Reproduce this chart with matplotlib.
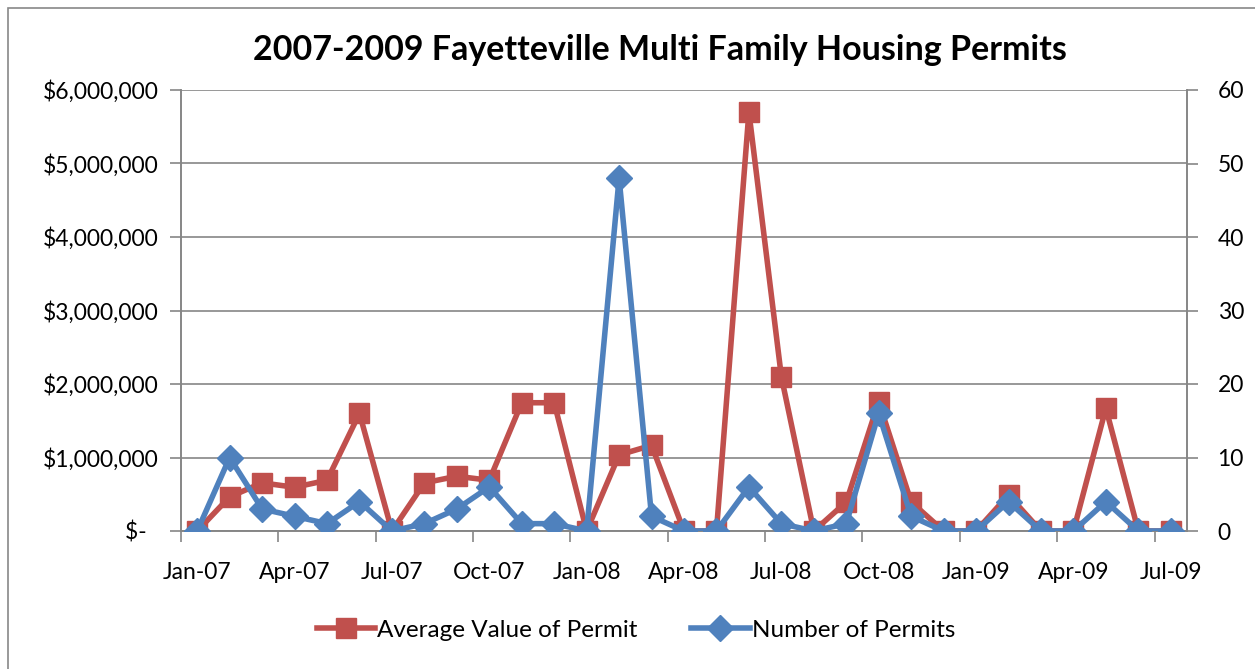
import matplotlib
matplotlib.use("Agg")
import matplotlib.pyplot as plt
from matplotlib.patches import Rectangle
from matplotlib.ticker import FixedLocator, FuncFormatter


MONTHS = [
    "Jan-07", "Feb-07", "Mar-07", "Apr-07", "May-07", "Jun-07", "Jul-07", "Aug-07",
    "Sep-07", "Oct-07", "Nov-07", "Dec-07", "Jan-08", "Feb-08", "Mar-08", "Apr-08",
    "May-08", "Jun-08", "Jul-08", "Aug-08", "Sep-08", "Oct-08", "Nov-08", "Dec-08",
    "Jan-09", "Feb-09", "Mar-09", "Apr-09", "May-09", "Jun-09", "Jul-09",
]

AVG_VALUE = [
    0, 465000, 655000, 595000, 690000, 1600000, 0, 655000,
    745000, 690000, 1745000, 1745000, 0, 1035000, 1165000, 0,
    0, 5700000, 2100000, 0, 395000, 1760000, 395000, 0,
    0, 490000, 0, 0, 1670000, 0, 0,
]

NUM_PERMITS = [
    0, 10, 3, 2, 1, 4, 0, 1,
    3, 6, 1, 1, 0, 48, 2, 0,
    0, 6, 1, 0, 1, 16, 2, 0,
    0, 4, 0, 0, 4, 0, 0,
]

RED = "#C0504D"
BLUE = "#4F81BD"
GRID = "#868686"

plt.rcParams["font.family"] = ["Lato", "DejaVu Sans"]


def money(v, _pos):
    if v == 0:
        return "$-  "
    return f"${v:,.0f}"


def main():
    fig = plt.figure(figsize=(12.55, 6.69), dpi=100)
    fig.patches.append(Rectangle((8 / 1255, -0.01), 1.02, 1 - 8 / 669 + 0.01,
                                 transform=fig.transFigure, fill=False,
                                 edgecolor="#888888", linewidth=1.2))

    ax1 = fig.add_axes([181 / 1255, 1 - 531 / 669, 1006 / 1255, 441 / 669])
    ax2 = ax1.twinx()

    x = list(range(len(MONTHS)))

    ax1.plot(x, AVG_VALUE, color=RED, linewidth=4, marker="s", markersize=14.5,
             label="Average Value of Permit", zorder=3)
    ax2.plot(x, NUM_PERMITS, color=BLUE, linewidth=4, marker="D", markersize=13,
             label="Number of Permits", zorder=3)

    ax1.set_xlim(-0.5, len(MONTHS) - 0.5)
    ax1.set_ylim(0, 6_000_000)
    ax2.set_ylim(0, 60)

    ax1.set_yticks(range(0, 6_000_001, 1_000_000))
    ax1.yaxis.set_major_formatter(FuncFormatter(money))
    ax2.set_yticks(range(0, 61, 10))

    # labels every three months, tick marks sit between categories
    ax1.set_xticks(x[::3])
    ax1.set_xticklabels(MONTHS[::3])
    ax1.xaxis.set_minor_locator(FixedLocator([i - 0.5 for i in range(0, len(MONTHS) + 1, 3)]))
    ax1.tick_params(axis="x", which="major", length=0, pad=22, labelsize=16.5)
    ax1.tick_params(axis="x", which="minor", length=8, color=GRID, width=1.2)
    ax1.tick_params(axis="y", length=8, color=GRID, width=1.2, labelsize=16.5, pad=8)
    ax2.tick_params(axis="y", length=8, color=GRID, width=1.2, labelsize=16.5, pad=14)

    ax1.grid(axis="y", color=GRID, linewidth=1.2)
    ax1.set_axisbelow(True)

    for ax in (ax1, ax2):
        ax.spines["top"].set_visible(False)
        for side in ("left", "right", "bottom"):
            ax.spines[side].set_color(GRID)
            ax.spines[side].set_linewidth(1.2)

    fig.text(660 / 1255, 1 - 50 / 669, "2007-2009 Fayetteville Multi Family Housing Permits",
             ha="center", va="center", fontsize=24.5, fontweight="bold")

    h1, l1 = ax1.get_legend_handles_labels()
    h2, l2 = ax2.get_legend_handles_labels()
    fig.legend(h1 + h2, l1 + l2, loc="center", bbox_to_anchor=(636 / 1255, 1 - 630 / 669),
               ncol=2, frameon=False, fontsize=17.5, handlelength=2.4,
               handletextpad=0.1, columnspacing=2.2)

    fig.savefig("out.png", dpi=100)
    plt.close(fig)


if __name__ == "__main__":
    main()
